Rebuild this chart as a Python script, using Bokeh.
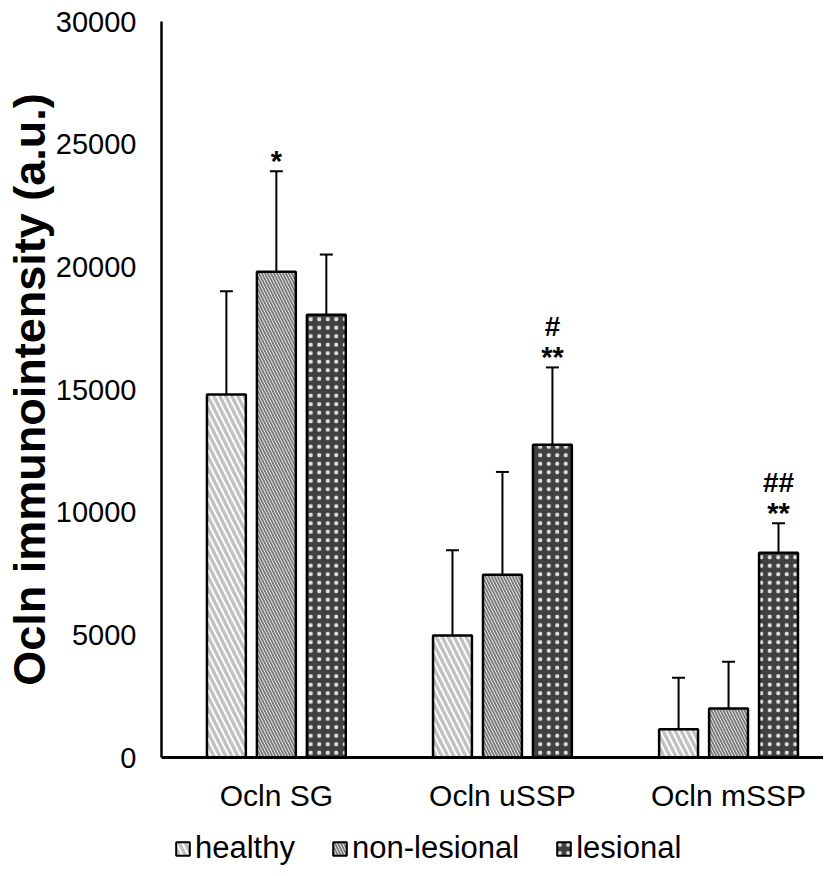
import numpy as np
import pandas as pd
from bokeh.plotting import figure
from bokeh.layouts import column
from bokeh.models import (ColumnDataSource, Range1d, FixedTicker, Whisker, TeeHead,
                          Legend, LegendItem)
from bokeh.core.properties import value
from bokeh.embed import file_html
from bokeh.resources import INLINE

# ---------------- data ----------------
categories = ["Ocln SG", "Ocln uSSP", "Ocln mSSP"]
groups = ["healthy", "non-lesional", "lesional"]

healthy = [14800, 4970, 1150]
healthy_sd = [4200, 3480, 2100]
non_lesional = [19800, 7450, 2000]
non_lesional_sd = [4100, 4190, 1900]
lesional = [18050, 12750, 8350]
lesional_sd = [2450, 3150, 1200]

# significance marks
star_marks = {"healthy": ["", "", ""],
              "non-lesional": ["*", "", ""],
              "lesional": ["", "**", "**"]}
hash_marks = {"healthy": ["", "", ""],
              "non-lesional": ["", "", ""],
              "lesional": ["", "#", "##"]}

y_ticks = [0, 5000, 10000, 15000, 20000, 25000, 30000]

FONT = "Liberation Sans"

means = {"healthy": healthy, "non-lesional": non_lesional, "lesional": lesional}
sds = {"healthy": healthy_sd, "non-lesional": non_lesional_sd, "lesional": lesional_sd}
offsets = {"healthy": -0.221, "non-lesional": 0.0, "lesional": 0.221}

styles = {
    "healthy": dict(fill_color="white", hatch_pattern="left_diagonal_line",
                    hatch_color="#c2c2c2", hatch_scale=12, hatch_weight=3.4),
    "non-lesional": dict(fill_color="white", hatch_pattern="left_diagonal_line",
                         hatch_color="#7e7e7e", hatch_scale=6, hatch_weight=2),
    "lesional": dict(fill_color="#404040", hatch_pattern="dot",
                     hatch_color="#e0e0e0", hatch_scale=8.5, hatch_weight=1.6),
}

p = figure(width=823, height=817, output_backend="svg", toolbar_location=None,
           x_range=Range1d(-0.508, 2.42), y_range=Range1d(0, 30000),
           min_border_left=154, min_border_right=0, min_border_top=21,
           min_border_bottom=60)
p.outline_line_color = None
p.xgrid.grid_line_color = None
p.ygrid.grid_line_color = None
p.background_fill_color = "white"
p.border_fill_color = "white"

# legend strip below the chart (its renderers are hidden, only the legend shows)
pl = figure(width=823, height=49, output_backend="svg", toolbar_location=None,
            x_range=Range1d(-0.508, 2.42), y_range=Range1d(-2, -1),
            x_axis_location=None, y_axis_location=None,
            min_border_left=0, min_border_right=0, min_border_top=0,
            min_border_bottom=0)
pl.outline_line_color = None
pl.xgrid.grid_line_color = None
pl.ygrid.grid_line_color = None
pl.border_fill_color = "white"
pl.background_fill_color = "white"

items = []
for g in groups:
    df = pd.DataFrame({
        "x": np.arange(len(categories)) + offsets[g],
        "mean": means[g],
        "top": np.array(means[g]) + np.array(sds[g]),
        "star": star_marks[g],
        "hash": hash_marks[g],
    })
    src = ColumnDataSource(df)
    w = Whisker(source=src, base="x", upper="top", lower="mean",
                line_color="black", line_width=2,
                upper_head=TeeHead(size=13, line_width=2, line_color="black"),
                lower_head=None, level="underlay")
    p.add_layout(w)
    p.vbar(x="x", top="mean", bottom=0, width=0.172, source=src,
           line_color="black", line_width=2.5, **styles[g])
    p.text(x="x", y="top", text="star", source=src, text_align="center",
           text_baseline="alphabetic", y_offset=-10,
           text_font=value(FONT), text_font_style="bold",
           text_font_size="29px", text_color="black")
    p.text(x="x", y="top", text="hash", source=src, text_align="center",
           text_baseline="alphabetic", y_offset=-41,
           text_font=value(FONT), text_font_style="bold",
           text_font_size="28px", text_color="black")
    rl = pl.vbar(x="x", top="mean", bottom=0, width=0.172, source=src,
                 line_color="black", line_width=2, visible=False, **styles[g])
    items.append(LegendItem(label=g, renderers=[rl]))

# axes
p.xaxis.ticker = FixedTicker(ticks=list(range(len(categories))))
p.xaxis.major_label_overrides = {i: c for i, c in enumerate(categories)}
p.xaxis.major_tick_line_color = None
p.xaxis.major_tick_out = 0
p.xaxis.major_tick_in = 0
p.xaxis.minor_tick_line_color = None
p.xaxis.axis_line_width = 3
p.xaxis.axis_line_color = "black"
p.xaxis.major_label_text_font = FONT
p.xaxis.major_label_text_font_size = "30px"
p.xaxis.major_label_text_color = "black"
p.xaxis.major_label_standoff = 21

p.yaxis.ticker = FixedTicker(ticks=y_ticks)
p.yaxis.major_tick_line_color = None
p.yaxis.major_tick_out = 0
p.yaxis.major_tick_in = 0
p.yaxis.minor_tick_line_color = None
p.yaxis.axis_line_width = 2.5
p.yaxis.axis_line_color = "black"
p.yaxis.major_label_text_font = FONT
p.yaxis.major_label_text_font_size = "29px"
p.yaxis.major_label_text_color = "black"
p.yaxis.major_label_standoff = 25
p.yaxis.axis_label = "Ocln immunointensity (a.u.)"
p.yaxis.axis_label_text_font = FONT
p.yaxis.axis_label_text_font_style = "bold"
p.yaxis.axis_label_text_font_size = "45px"
p.yaxis.axis_label_text_color = "black"
p.yaxis.axis_label_standoff = -2

legend = Legend(items=items, orientation="horizontal", location=(13, 0),
                label_text_font=FONT, label_text_font_size="31px",
                label_text_color="black", glyph_width=17, glyph_height=17,
                label_standoff=4, spacing=36, padding=0, margin=0,
                border_line_color=None, background_fill_alpha=0)
pl.add_layout(legend, "center")

layout = column(p, pl, spacing=0)
open("out.html", "w").write(file_html(layout, INLINE))
